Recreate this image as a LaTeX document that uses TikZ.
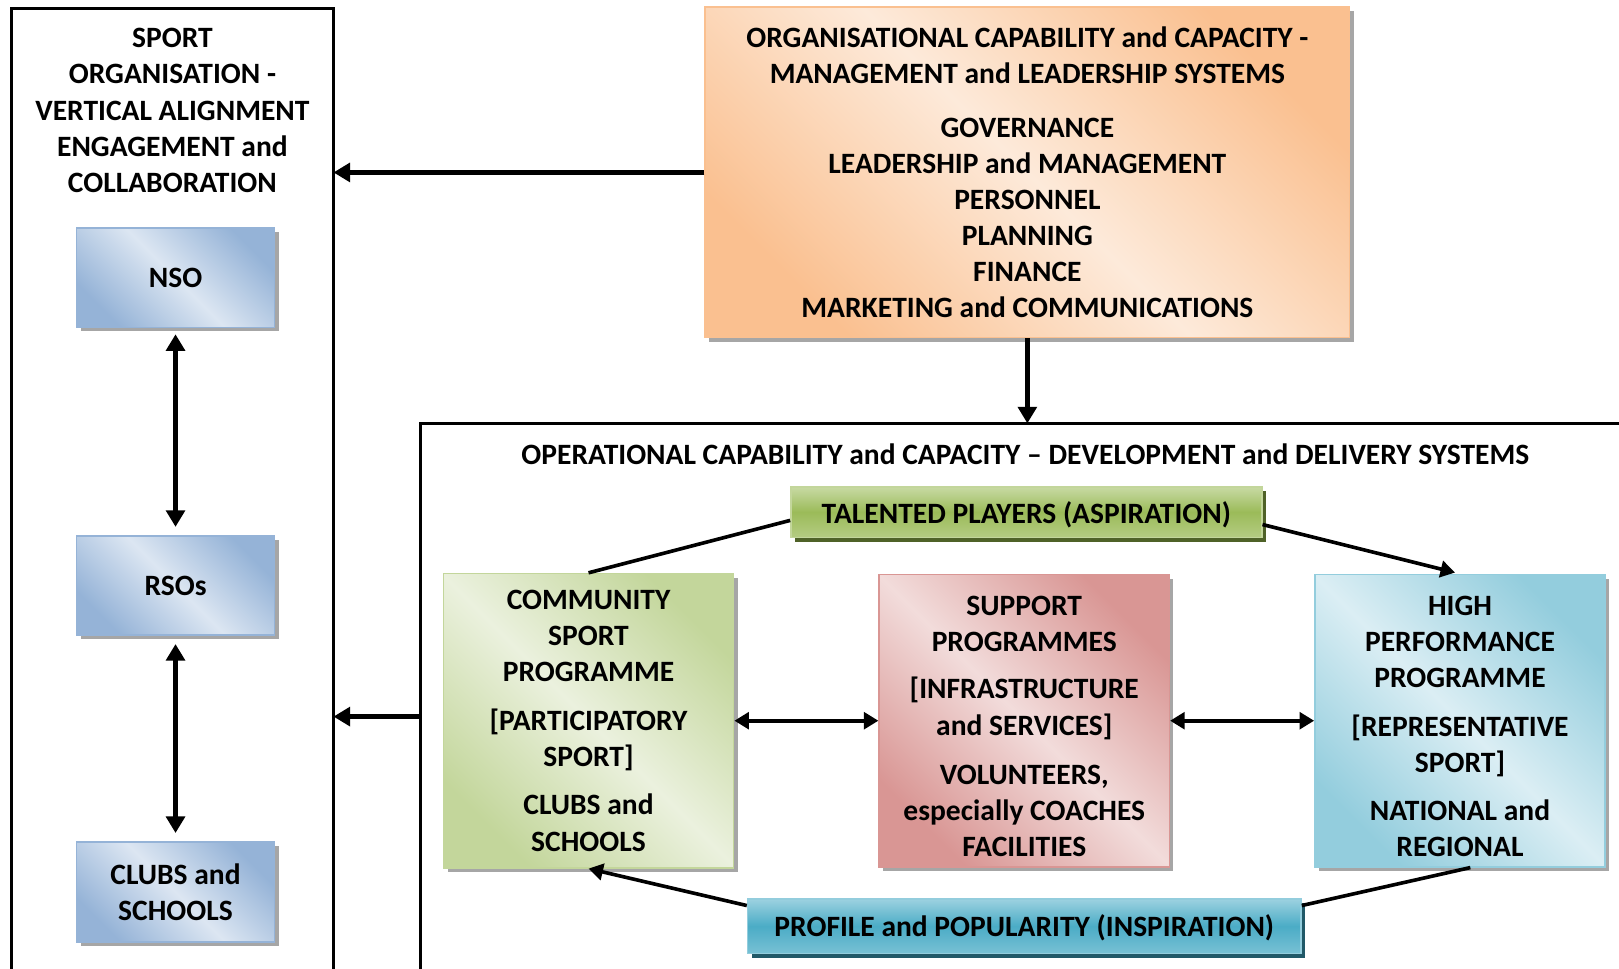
\documentclass[tikz,border=0pt]{standalone}
\usepackage{fontspec}
\setmainfont{Carlito}
\usetikzlibrary{arrows.meta,shadows}

\definecolor{nsoblue}{HTML}{95B3D7}
\definecolor{nsolight}{HTML}{DCE6F2}
\definecolor{orgorange}{HTML}{FAC090}
\definecolor{orglight}{HTML}{FDEADA}
\definecolor{comgreen}{HTML}{C3D69B}
\definecolor{comlight}{HTML}{EBF1DE}
\definecolor{suppred}{HTML}{D99694}
\definecolor{supplight}{HTML}{F2DCDB}
\definecolor{hpblue}{HTML}{93CDDD}
\definecolor{hplight}{HTML}{DBEEF4}
\definecolor{talgreen}{HTML}{9BBB59}
\definecolor{taldark}{HTML}{4F6228}
\definecolor{profblue}{HTML}{4BACC6}
\definecolor{profdark}{HTML}{215968}
\definecolor{shadowgrey}{HTML}{A6A6A6}

\tikzset{
  gradbox/.style 2 args={draw=#1, line width=1.5pt, left color=#1, right color=#1,
    middle color=#2, shading angle=135, inner sep=2pt,
    drop shadow={shadow xshift=4pt, shadow yshift=-4pt, opacity=1, fill=shadowgrey}},
  bannerbox/.style 2 args={draw=#1!60!white, line width=1.5pt, top color=#1!55!white,
    bottom color=#1!75!white, middle color=#1, inner sep=2pt,
    drop shadow={shadow xshift=4pt, shadow yshift=-4pt, opacity=1, fill=#2}},
}

\begin{document}
\begin{tikzpicture}[x=1pt, y=-1pt,
  every node/.style={font=\fontsize{28.6}{35}\selectfont\bfseries, align=center},
  frame/.style={line width=3pt},
  bigarrow/.style={line width=5pt, -{Triangle[length=16pt,width=18pt]}},
  dblarrow/.style={line width=4.5pt, {Triangle[length=16pt,width=18pt]}-{Triangle[length=16pt,width=18pt]}},
  link/.style={line width=3.5pt},
  linkarrow/.style={link, -{Triangle[length=14pt,width=16pt]}},
  linkdbl/.style={link, {Triangle[length=14pt,width=16pt]}-{Triangle[length=14pt,width=16pt]}}]
\useasboundingbox (0,0) rectangle (1568,938);

% sport organisation column
\draw[frame] (11,938) |- (323,8) -- (323,938);
\node (sotitle) at (167,107) {SPORT\\ORGANISATION -\\VERTICAL ALIGNMENT\\ENGAGEMENT and\\COLLABORATION};
\node[gradbox={nsoblue}{nsolight}, minimum width=192pt, minimum height=96pt] (nso) at (170,269) {NSO};
\node[gradbox={nsoblue}{nsolight}, minimum width=192pt, minimum height=96pt] (rso) at (170,567) {RSOs};
\node[gradbox={nsoblue}{nsolight}, minimum width=192pt, minimum height=97pt] (clubs) at (170,864) {CLUBS and\\SCHOOLS};
\draw[dblarrow, shorten <=6pt, shorten >=8pt] (nso) -- (rso);
\draw[dblarrow, shorten <=8pt, shorten >=8pt] (rso) -- (clubs);

% organisational capability
\node[gradbox={orgorange}{orglight}, minimum width=624pt, minimum height=320pt] (org) at (995,167)
  {ORGANISATIONAL CAPABILITY and CAPACITY -\\MANAGEMENT and LEADERSHIP SYSTEMS\\[17pt]GOVERNANCE\\LEADERSHIP and MANAGEMENT\\PERSONNEL\\PLANNING\\FINANCE\\MARKETING and COMMUNICATIONS};

% operational capability
\draw[frame] (407,938) |- (1568,410);
\coordinate (soedge) at (323,0);
\coordinate (optop) at (0,410);
\coordinate (opedge) at (407,694);
\node (optitle) at (993,440) {OPERATIONAL CAPABILITY and CAPACITY – DEVELOPMENT and DELIVERY SYSTEMS};

\node[bannerbox={talgreen}{taldark}, minimum width=456pt, minimum height=49pt] (talent) at (994,496) {\rule{0pt}{26pt}TALENTED PLAYERS (ASPIRATION)};
\node[gradbox={comgreen}{comlight}, minimum width=281pt, minimum height=285pt] (comm) at (570,698)
  {COMMUNITY\\SPORT\\PROGRAMME\\[12pt][PARTICIPATORY\\SPORT]\\[12pt]CLUBS and\\SCHOOLS};
\node[gradbox={suppred}{supplight}, minimum width=281pt, minimum height=283pt] (supp) at (992,698)
  {\rule{0pt}{30pt}SUPPORT\\PROGRAMMES\\[11pt][INFRASTRUCTURE\\and SERVICES]\\[13pt]VOLUNTEERS,\\especially COACHES\\FACILITIES};
\node[gradbox={hpblue}{hplight}, minimum width=281pt, minimum height=283pt] (hp) at (1414,698)
  {\rule{0pt}{30pt}HIGH\\PERFORMANCE\\PROGRAMME\\[12pt][REPRESENTATIVE\\SPORT]\\[12pt]NATIONAL and\\REGIONAL};
\node[bannerbox={profblue}{profdark}, minimum width=536pt, minimum height=53pt] (profile) at (992,897) {\rule{0pt}{24pt}PROFILE and POPULARITY (INSPIRATION)};

\draw[bigarrow] (org.west) -- (org.west -| soedge);
\draw[bigarrow] (org.south) -- (org.south |- optop);
\draw[bigarrow] (opedge) -- (opedge -| soedge);

\draw[linkdbl] (comm) -- (supp);
\draw[linkdbl] (supp) -- (hp);
\draw[link] ([yshift=-8pt]talent.west) -- (comm.north);
\draw[linkarrow, shorten >=5pt] ([yshift=-12pt]talent.east) -- (hp.north);
\draw[link] ([xshift=10pt]hp.south) -- ([yshift=20pt]profile.east);
\draw[linkarrow] ([yshift=20pt]profile.west) -- (comm.south);
\end{tikzpicture}
\end{document}
